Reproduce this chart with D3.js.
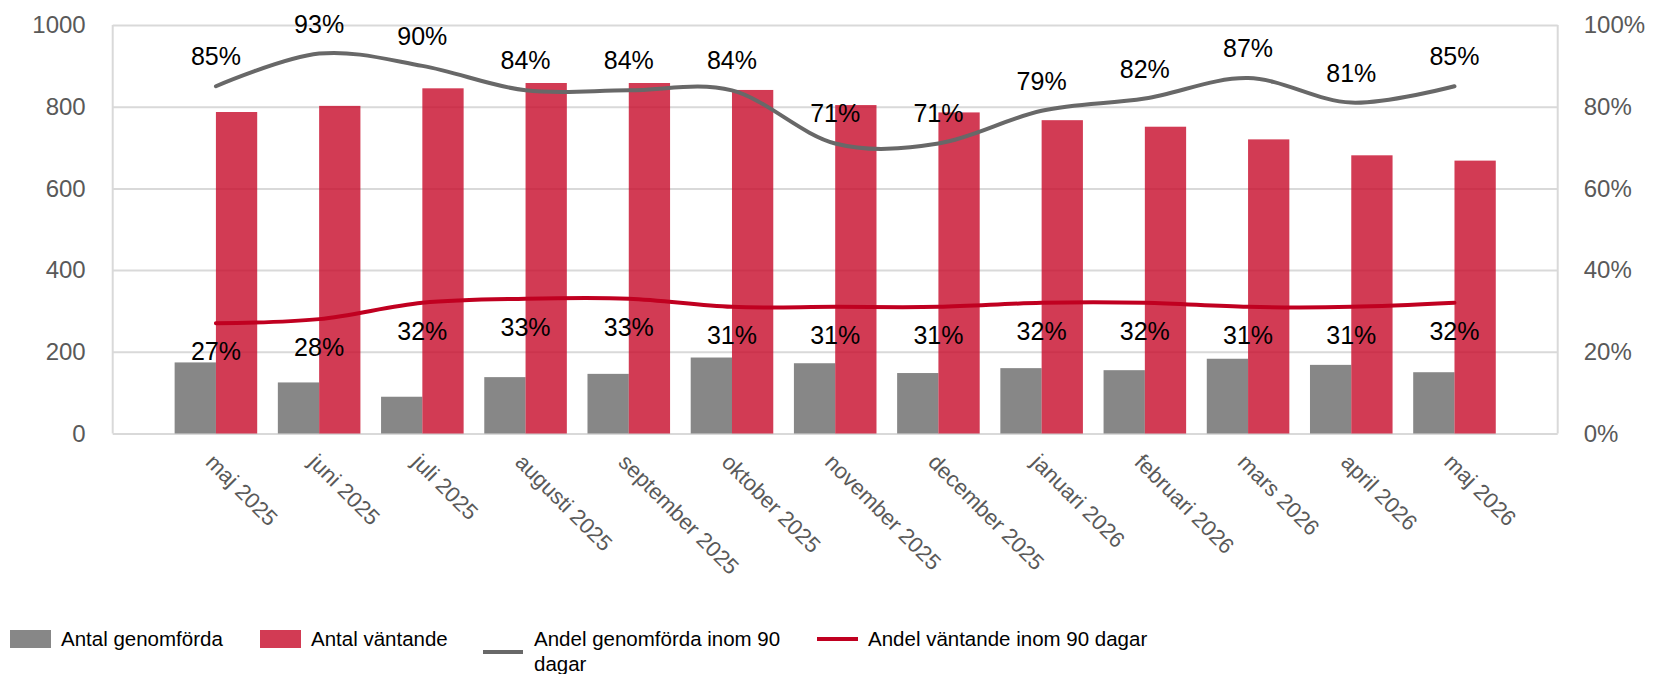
<!DOCTYPE html>
<html>
<head>
<meta charset="utf-8">
<script src="https://cdn.jsdelivr.net/npm/d3@7"></script>
<style>
  html, body { margin: 0; padding: 0; background: #fff; }
  svg { display: block; font-family: "Liberation Sans", Arial, sans-serif; }
</style>
</head>
<body>
<svg id="chart" width="1653" height="674"></svg>
<script>
// Months on the category axis
const categories = ["maj 2025", "juni 2025", "juli 2025", "augusti 2025", "september 2025",
  "oktober 2025", "november 2025", "december 2025", "januari 2026", "februari 2026",
  "mars 2026", "april 2026", "maj 2026"];

// Counts (left axis)
const antalGenomforda = [174, 125, 90, 138, 146, 186, 172, 148, 160, 155, 183, 168, 150];
const antalVantande   = [787, 802, 845, 858, 858, 841, 804, 786, 767, 751, 720, 681, 668];

// Shares handled within 90 days (right axis)
const andelGenomforda = [0.85, 0.93, 0.90, 0.84, 0.84, 0.84, 0.71, 0.71, 0.79, 0.82, 0.87, 0.81, 0.85];
const andelVantande   = [0.27, 0.28, 0.32, 0.33, 0.33, 0.31, 0.31, 0.31, 0.32, 0.32, 0.31, 0.31, 0.32];

const leftTicks  = [0, 200, 400, 600, 800, 1000];
const rightTicks = [0, 0.2, 0.4, 0.6, 0.8, 1.0];

const seriesNames = ["Antal genomförda", "Antal väntande", "Andel genomförda inom 90 dagar", "Andel väntande inom 90 dagar"];

const plot = { left: 112.7, right: 1557.7, top: 25, bottom: 433.5 };
const colors = { gray: "#878787", red: "#c8102e", grayLine: "#686868", redLine: "#c00020", grid: "#d9d9d9", tick: "#595959" };

const svg = d3.select("#chart");

const x0 = d3.scaleBand().domain(categories).range([plot.left, plot.right])
  .paddingInner(0.2).paddingOuter(0.6);
const x1 = d3.scaleBand().domain(["g", "v"]).range([0, x0.bandwidth()]);
const yL = d3.scaleLinear().domain([0, 1000]).range([plot.bottom, plot.top]);
const yR = d3.scaleLinear().domain([0, 1]).range([plot.bottom, plot.top]);
const cx = c => x0(c) + x0.bandwidth() / 2;

// Gridlines
const grid = svg.append("g").attr("transform", `translate(${plot.left},0)`)
  .call(d3.axisLeft(yL).tickValues(leftTicks).tickSize(-(plot.right - plot.left)).tickFormat(""));
grid.select(".domain").remove();
grid.selectAll(".tick line").attr("stroke", colors.grid).attr("stroke-width", 2);

// Plot frame (left and right edges)
svg.append("line").attr("x1", plot.left).attr("x2", plot.left).attr("y1", plot.top).attr("y2", plot.bottom)
  .attr("stroke", colors.grid).attr("stroke-width", 2);
svg.append("line").attr("x1", plot.right).attr("x2", plot.right).attr("y1", plot.top).attr("y2", plot.bottom)
  .attr("stroke", colors.grid).attr("stroke-width", 2);

// Left axis labels
const axL = svg.append("g").attr("transform", `translate(${plot.left},0)`)
  .call(d3.axisLeft(yL).tickValues(leftTicks).tickSize(0).tickPadding(27).tickFormat(d3.format("d")));
axL.select(".domain").remove();
axL.selectAll("text").attr("fill", colors.tick).style("font-size", "24px").style("font-family", "Liberation Sans, Arial, sans-serif");

// Right axis labels
const axR = svg.append("g").attr("transform", `translate(${plot.right},0)`)
  .call(d3.axisRight(yR).tickValues(rightTicks).tickSize(0).tickPadding(26).tickFormat(d3.format(".0%")));
axR.select(".domain").remove();
axR.selectAll("text").attr("fill", colors.tick).style("font-size", "24px").style("font-family", "Liberation Sans, Arial, sans-serif");

// Category labels, rotated
const axX = svg.append("g").attr("transform", `translate(0,452)`)
  .call(d3.axisBottom(x0).tickSize(0));
axX.select(".domain").remove();
axX.selectAll("text")
  .attr("y", 0).attr("x", 0).attr("dy", "0.74em")
  .attr("text-anchor", "start")
  .attr("transform", "rotate(45)")
  .attr("fill", colors.tick).style("font-size", "22px").style("font-family", "Liberation Sans, Arial, sans-serif");

// Bars
const groups = svg.append("g").selectAll("g").data(categories).join("g")
  .attr("transform", c => `translate(${x0(c)},0)`);
groups.append("rect")
  .attr("x", x1("g")).attr("width", x1.bandwidth())
  .attr("y", (c, i) => yL(antalGenomforda[i]))
  .attr("height", (c, i) => yL(0) - yL(antalGenomforda[i]))
  .attr("fill", colors.gray);
groups.append("rect")
  .attr("x", x1("v")).attr("width", x1.bandwidth())
  .attr("y", (c, i) => yL(antalVantande[i]))
  .attr("height", (c, i) => yL(0) - yL(antalVantande[i]))
  .attr("fill", colors.red).attr("fill-opacity", 0.82);

// Smoothed lines
const lineGen = d3.line().x(d => cx(d.c)).y(d => yR(d.v)).curve(d3.curveCardinal.tension(0));
const gData = categories.map((c, i) => ({ c, v: andelGenomforda[i] }));
const rData = categories.map((c, i) => ({ c, v: andelVantande[i] }));
svg.append("path").datum(gData).attr("d", lineGen)
  .attr("fill", "none").attr("stroke", colors.grayLine).attr("stroke-width", 4).attr("stroke-linecap", "round");
svg.append("path").datum(rData).attr("d", lineGen)
  .attr("fill", "none").attr("stroke", colors.redLine).attr("stroke-width", 4).attr("stroke-linecap", "round");

// Data labels
const pct = d3.format(".0%");
svg.append("g").selectAll("text").data(gData).join("text")
  .attr("x", d => cx(d.c)).attr("y", d => yR(d.v) - 21)
  .attr("text-anchor", "middle").style("font-size", "25px").attr("fill", "#000")
  .text(d => pct(d.v));
svg.append("g").selectAll("text").data(rData).join("text")
  .attr("x", d => cx(d.c)).attr("y", d => yR(d.v) + 37)
  .attr("text-anchor", "middle").style("font-size", "25px").attr("fill", "#000")
  .text(d => pct(d.v));

// Legend
const legend = svg.append("g").style("font-size", "20.5px");
legend.append("rect").attr("x", 10).attr("y", 630).attr("width", 41).attr("height", 18).attr("fill", colors.gray);
legend.append("text").attr("x", 61).attr("y", 646).text(seriesNames[0]);
legend.append("rect").attr("x", 260).attr("y", 630).attr("width", 41).attr("height", 18).attr("fill", colors.red).attr("fill-opacity", 0.82);
legend.append("text").attr("x", 311).attr("y", 646).text(seriesNames[1]);
legend.append("line").attr("x1", 483).attr("x2", 523).attr("y1", 652).attr("y2", 652)
  .attr("stroke", colors.grayLine).attr("stroke-width", 4);
const t3 = legend.append("text").attr("x", 534).attr("y", 646);
t3.append("tspan").attr("x", 534).text("Andel genomförda inom 90");
t3.append("tspan").attr("x", 534).attr("dy", 25).text("dagar");
legend.append("line").attr("x1", 817).attr("x2", 858).attr("y1", 639).attr("y2", 639)
  .attr("stroke", colors.redLine).attr("stroke-width", 4);
legend.append("text").attr("x", 868).attr("y", 646).text(seriesNames[3]);
</script>
</body>
</html>
